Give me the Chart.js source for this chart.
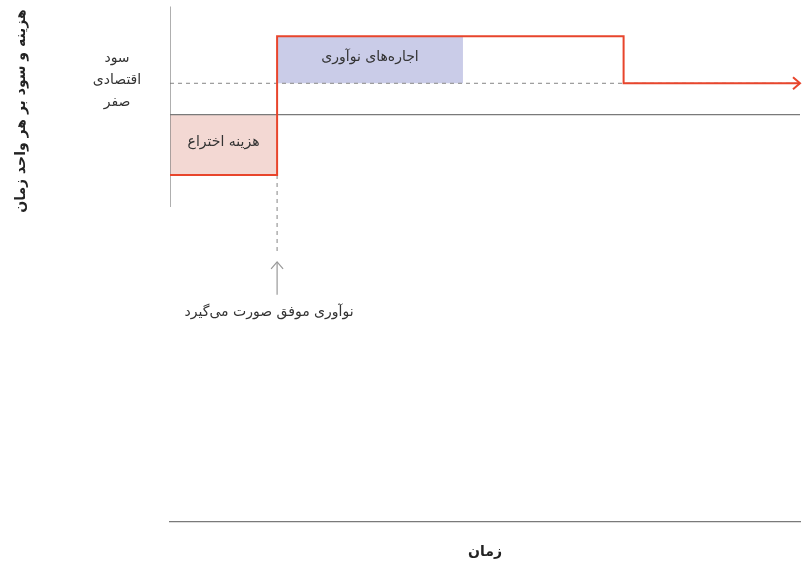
<!DOCTYPE html>
<html lang="fa">
<head>
<meta charset="utf-8">
<title>هزینه و سود بر هر واحد زمان</title>
<script src="https://cdn.jsdelivr.net/npm/chart.js@4.4.0/dist/chart.umd.min.js"></script>
<style>
  html, body { margin: 0; padding: 0; background: #fff; }
  #wrap { width: 810px; height: 573px; position: relative; }
</style>
</head>
<body>
<div id="wrap"><canvas id="chart"></canvas></div>
<script>
// time points on the x axis
const timePoints = [0, 1.7, 4.65, 7.2, 10];
// profit levels on the y axis
const zeroLevel = 0;
const normalProfit = 2;
const rentLevel = 5;
const inventionCost = -3.85;
// red step line: invention cost, then rents, then back to normal profit
const stepX = [0, 1.7, 1.7, 7.2, 7.2, 10];
const stepY = [-3.85, -3.85, 5, 5, 2, 2];
// vertical axis extent and the arrow marking the innovation
const axisY = [-5.9, 6.9];
const markerY = [-3.85, -8.9];
const arrowY = [-9.4, -11.5];

const labels = {
    yTitle: 'هزینه و سود بر هر واحد زمان',
    xTitle: 'زمان',
    normal: ['سود', 'اقتصادی', 'صفر'],
    cost: 'هزینه اختراع',
    rents: 'اجاره‌های نوآوری',
    success: 'نوآوری موفق صورت می‌گیرد'
};

const RED = '#e8452c';
const GREY = '#7a7a7a';
const FONT = '"DejaVu Sans", sans-serif';

const pts = (xs, ys) => xs.map((x, i) => ({ x, y: ys[i] }));

// Chart.js paints the first dataset on top, so the red line comes first
const datasets = [
    {   // red step line
        data: pts(stepX, stepY),
        borderColor: RED,
        borderWidth: 2,
        pointRadius: 0,
        fill: false
    },
    {   // dashed marker under the step
        data: pts([timePoints[1], timePoints[1]], markerY),
        borderColor: '#999',
        borderWidth: 1.2,
        borderDash: [4, 4],
        pointRadius: 0,
        fill: false
    },
    {   // arrow shaft
        data: pts([timePoints[1], timePoints[1]], arrowY),
        borderColor: '#999',
        borderWidth: 1.2,
        pointRadius: 0,
        fill: false
    },
    {   // vertical axis
        data: pts([0, 0], axisY),
        borderColor: GREY,
        borderWidth: 1.2,
        pointRadius: 0,
        fill: false
    },
    {   // zero line
        data: pts([timePoints[0], timePoints[4]], [zeroLevel, zeroLevel]),
        borderColor: GREY,
        borderWidth: 1.2,
        pointRadius: 0,
        fill: false
    },
    {   // normal profit dashed line
        data: pts([timePoints[0], timePoints[4]], [normalProfit, normalProfit]),
        borderColor: '#999',
        borderWidth: 1.2,
        borderDash: [4, 4],
        pointRadius: 0,
        fill: false
    },
    {   // lavender rents box
        data: pts([timePoints[1], timePoints[2]], [rentLevel, rentLevel]),
        borderWidth: 0,
        backgroundColor: '#cacce8',
        fill: { value: normalProfit },
        pointRadius: 0
    },
    {   // pink invention-cost box
        data: pts([timePoints[0], timePoints[1]], [inventionCost, inventionCost]),
        borderWidth: 0,
        backgroundColor: '#f3d8d3',
        fill: { value: zeroLevel },
        pointRadius: 0
    }
];

const annotate = {
    id: 'annotate',
    afterDatasetsDraw(chart) {
        const { ctx, scales: { x, y } } = chart;
        ctx.save();

        // arrow heads
        const head = (px, py, dx, dy, color) => {
            ctx.strokeStyle = color;
            ctx.lineWidth = color === RED ? 2 : 1.2;
            ctx.beginPath();
            ctx.moveTo(px - dx * 7 - dy * 6, py - dy * 7 + dx * 6);
            ctx.lineTo(px, py);
            ctx.lineTo(px - dx * 7 + dy * 6, py - dy * 7 - dx * 6);
            ctx.stroke();
        };
        head(x.getPixelForValue(stepX[stepX.length - 1]), y.getPixelForValue(stepY[stepY.length - 1]), 1, 0, RED);
        head(x.getPixelForValue(timePoints[1]), y.getPixelForValue(arrowY[0]), 0, -1, '#999');

        ctx.fillStyle = '#333';
        ctx.textAlign = 'center';
        ctx.textBaseline = 'middle';
        ctx.direction = 'rtl';
        ctx.font = '14px ' + FONT;

        ctx.fillText(labels.cost,
            x.getPixelForValue((timePoints[0] + timePoints[1]) / 2),
            y.getPixelForValue((zeroLevel + inventionCost) / 2) - 2);
        ctx.fillText(labels.rents,
            x.getPixelForValue((timePoints[1] + timePoints[2]) / 2),
            y.getPixelForValue((normalProfit + rentLevel) / 2) - 2);
        ctx.fillText(labels.success, x.getPixelForValue(timePoints[1]) - 8, y.getPixelForValue(-12.6));

        const ny = y.getPixelForValue(normalProfit);
        labels.normal.forEach((t, i) => ctx.fillText(t, 117, ny - 25 + i * 22));

        ctx.font = 'bold 14px ' + FONT;
        ctx.fillStyle = '#222';
        ctx.fillText(labels.xTitle, (x.left + x.right) / 2, 552);

        ctx.translate(21, 111);
        ctx.rotate(-Math.PI / 2);
        ctx.fillText(labels.yTitle, 0, 0);
        ctx.restore();
    }
};

new Chart(document.getElementById('chart'), {
    type: 'line',
    data: { datasets },
    options: {
        responsive: true,
        maintainAspectRatio: false,
        animation: false,
        layout: { padding: { left: 170, right: 10, top: 5, bottom: 0 } },
        plugins: {
            legend: { display: false },
            tooltip: { enabled: false }
        },
        scales: {
            x: {
                type: 'linear',
                min: 0,
                max: 10,
                ticks: { display: false },
                grid: { display: false, drawTicks: false },
                border: { display: true, color: GREY, width: 1.2 },
                afterFit: (s) => { s.height = 51; }
            },
            y: {
                type: 'linear',
                min: -26,
                max: 7,
                display: false
            }
        }
    },
    plugins: [annotate]
});
</script>
</body>
</html>
